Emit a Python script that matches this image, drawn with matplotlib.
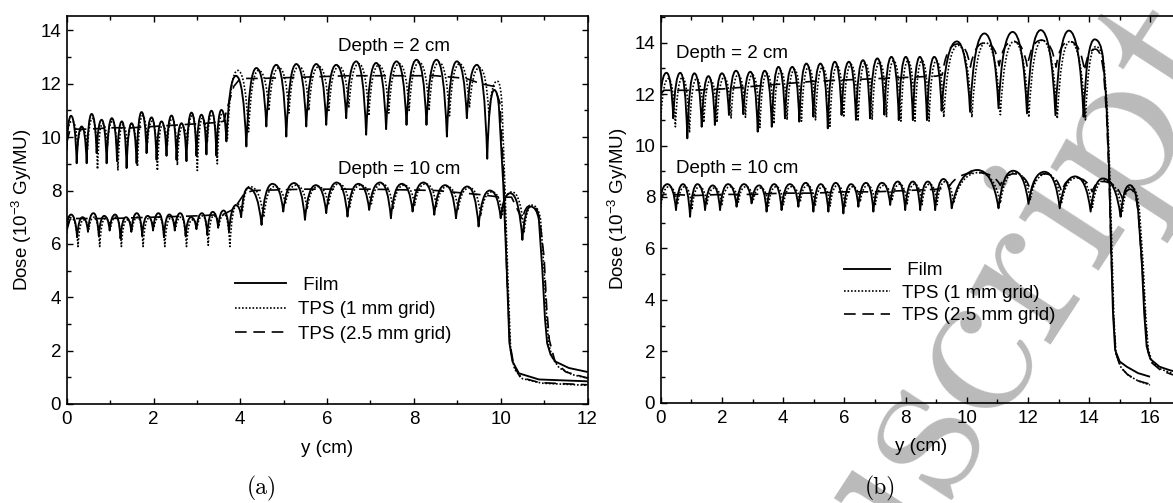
import numpy as np
import matplotlib
matplotlib.use('Agg')
import matplotlib.pyplot as plt
from matplotlib.path import Path
from matplotlib.patches import PathPatch
from matplotlib.lines import Line2D
from matplotlib.ticker import MultipleLocator

plt.rcParams['font.family'] = ['Liberation Sans', 'DejaVu Sans']
plt.rcParams['mathtext.fontset'] = 'custom'
plt.rcParams['mathtext.rm'] = 'Liberation Sans'
FS = 13.5
plt.rcParams['font.size'] = FS

# ---- panel (a), depth 2 cm ----
a2_film_x = [0.0, 0.10, 0.23, 0.345, 0.46, 0.575, 0.69, 0.805, 0.92, 1.04, 1.16, 1.27, 1.38, 1.495, 1.61, 1.725,
             1.84, 1.955, 2.07, 2.185, 2.30, 2.415, 2.53, 2.645, 2.76, 2.875, 2.99, 3.105, 3.22, 3.335, 3.45, 3.565,
             3.68, 3.90, 4.14, 4.37, 4.60, 4.83, 5.06, 5.29, 5.52, 5.75, 5.98, 6.21, 6.44, 6.67, 6.90, 7.13, 7.36,
             7.60, 7.83, 8.06, 8.29, 8.52, 8.76, 8.99, 9.22, 9.45, 9.69, 9.85, 9.96, 10.06, 10.14, 10.20, 10.27,
             10.42, 10.88, 12.0]
a2_film_y = [9.5, 10.80, 9.02, 10.40, 9.02, 10.87, 9.40, 10.65, 9.02, 10.71, 9.10, 10.59, 8.84, 10.52, 9.02, 10.94,
             9.40, 10.74, 9.15, 10.59, 9.30, 10.81, 9.15, 10.52, 9.10, 10.92, 9.30, 10.84, 9.35, 10.99, 9.30, 11.02,
             9.84, 12.30, 9.65, 12.59, 10.40, 12.71, 10.02, 12.74, 10.40, 12.74, 10.46, 12.71, 10.71, 12.84, 10.09,
             12.78, 10.30, 12.84, 10.46, 12.90, 10.46, 12.90, 10.02, 12.84, 10.71, 12.71, 9.19, 11.77, 11.10, 8.20,
             5.00, 2.30, 1.60, 1.15, 0.92, 0.85]
a2_tps1_x = [0.0, 0.12, 0.25, 0.365, 0.48, 0.595, 0.71, 0.825, 0.94, 1.06, 1.18, 1.29, 1.40, 1.515, 1.63, 1.745,
             1.86, 1.975, 2.09, 2.205, 2.32, 2.435, 2.55, 2.665, 2.78, 2.895, 3.01, 3.125, 3.24, 3.355, 3.47, 3.585,
             3.70, 3.94, 4.19, 4.42, 4.66, 4.89, 5.12, 5.35, 5.58, 5.81, 6.04, 6.27, 6.50, 6.73, 6.96, 7.19, 7.42,
             7.66, 7.89, 8.12, 8.35, 8.58, 8.82, 9.05, 9.28, 9.51, 9.73, 9.92, 10.03, 10.10, 10.17, 10.23, 10.32,
             10.50, 10.95, 12.0]
a2_tps1_y = [9.9, 10.60, 9.70, 10.30, 9.55, 10.70, 8.80, 10.50, 9.70, 10.60, 8.75, 10.45, 9.70, 10.40, 8.90, 10.80,
             9.75, 10.60, 8.75, 10.45, 9.70, 10.70, 8.95, 10.40, 9.75, 10.80, 8.75, 10.70, 9.80, 10.85, 9.00, 10.90,
             9.90, 12.50, 10.20, 12.50, 11.00, 12.60, 10.90, 12.65, 11.00, 12.65, 11.00, 12.65, 11.10, 12.75, 10.80,
             12.70, 10.90, 12.75, 11.00, 12.80, 11.00, 12.80, 10.80, 12.75, 11.10, 12.60, 10.80, 12.10, 11.20, 8.00,
             4.50, 2.00, 1.30, 0.95, 0.78, 0.70]
a2_tps25_x = [0.0, 0.08, 0.5, 1.0, 1.5, 2.0, 2.5, 3.0, 3.5, 3.62, 3.72, 3.85, 4.0, 4.5, 5.5, 6.5, 7.5, 8.5, 9.2,
              9.55, 9.85, 9.98, 10.07, 10.14, 10.21, 10.30, 10.45, 10.90, 12.0]
a2_tps25_y = [9.8, 10.30, 10.30, 10.35, 10.35, 10.40, 10.45, 10.50, 10.55, 10.60, 11.20, 11.90, 12.20, 12.20, 12.25,
              12.30, 12.30, 12.30, 12.20, 12.00, 11.90, 11.30, 8.50, 5.00, 2.30, 1.45, 1.00, 0.80, 0.72]

# ---- panel (a), depth 10 cm ----
a10_film_x = [0.0, 0.10, 0.24, 0.365, 0.49, 0.615, 0.74, 0.865, 0.99, 1.115, 1.24, 1.365, 1.49, 1.615, 1.74, 1.865,
              1.99, 2.115, 2.24, 2.365, 2.49, 2.615, 2.74, 2.865, 2.99, 3.115, 3.24, 3.365, 3.49, 3.615, 3.74, 3.90,
              4.02, 4.18, 4.49, 4.74, 4.99, 5.24, 5.49, 5.74, 5.98, 6.22, 6.47, 6.72, 6.97, 7.22, 7.47, 7.72, 7.97,
              8.22, 8.47, 8.72, 8.97, 9.23, 9.49, 9.75, 10.0, 10.22, 10.50, 10.69, 10.88, 10.96, 11.02, 11.07, 11.15,
              11.26, 11.57, 12.0]
a10_film_y = [6.6, 7.10, 6.25, 7.00, 6.45, 7.15, 6.30, 7.05, 6.50, 7.10, 6.20, 7.00, 6.45, 7.15, 6.30, 7.05, 6.50,
              7.15, 6.25, 7.10, 6.50, 7.15, 6.30, 7.00, 6.55, 7.15, 6.35, 7.20, 6.60, 7.25, 6.45, 7.45, 7.00, 8.10,
              6.71, 8.25, 7.21, 8.28, 6.90, 8.20, 7.15, 8.30, 7.02, 8.25, 7.27, 8.30, 6.96, 8.25, 7.21, 8.30, 7.09,
              8.20, 6.96, 8.15, 6.65, 8.00, 6.96, 7.90, 6.15, 7.40, 6.90, 5.00, 3.20, 2.28, 1.85, 1.59, 1.35, 1.20]
a10_tps1_x = [0.0, 0.12, 0.26, 0.385, 0.51, 0.635, 0.76, 0.885, 1.01, 1.135, 1.26, 1.385, 1.51, 1.635, 1.76, 1.885,
              2.01, 2.135, 2.26, 2.385, 2.51, 2.635, 2.76, 2.885, 3.01, 3.135, 3.26, 3.385, 3.51, 3.635, 3.76, 3.93,
              4.05, 4.22, 4.54, 4.79, 5.04, 5.29, 5.54, 5.79, 6.03, 6.27, 6.52, 6.77, 7.02, 7.27, 7.52, 7.77, 8.02,
              8.27, 8.52, 8.77, 9.02, 9.28, 9.54, 9.80, 10.04, 10.26, 10.54, 10.73, 10.92, 11.00, 11.06, 11.11, 11.20,
              11.35, 11.65, 12.0]
a10_tps1_y = [6.4, 6.95, 5.90, 6.90, 6.55, 7.00, 5.90, 6.95, 6.60, 7.00, 5.90, 6.90, 6.55, 7.00, 5.90, 6.95, 6.60,
              7.00, 5.90, 6.95, 6.60, 7.00, 5.90, 6.90, 6.65, 7.05, 5.95, 7.05, 6.70, 7.10, 5.90, 7.50, 7.20, 8.15,
              7.00, 8.15, 7.50, 8.20, 7.30, 8.15, 7.45, 8.25, 7.35, 8.20, 7.50, 8.25, 7.30, 8.20, 7.45, 8.25, 7.40,
              8.15, 7.30, 8.10, 7.05, 7.95, 7.10, 7.95, 6.45, 7.45, 6.90, 5.00, 3.20, 2.20, 1.70, 1.35, 1.10, 0.97]
a10_tps25_x = [0.0, 0.08, 1.0, 2.0, 3.0, 3.6, 3.85, 4.1, 4.3, 5.5, 7.0, 8.5, 9.5, 10.0, 10.25, 10.5, 10.7, 10.9,
               11.0, 11.06, 11.12, 11.25, 11.5, 12.0]
a10_tps25_y = [6.5, 6.95, 6.95, 7.00, 7.05, 7.10, 7.30, 7.90, 8.00, 8.05, 8.05, 8.00, 7.85, 7.75, 7.75, 6.90, 7.45,
               6.90, 5.50, 3.60, 2.40, 1.60, 1.20, 0.97]

# ---- panel (b), depth 2 cm ----
b2_film_x = [0.0, 0.19, 0.41, 0.64, 0.87, 1.10, 1.34, 1.56, 1.77, 2.00, 2.23, 2.46, 2.70, 2.93, 3.17, 3.40, 3.63,
             3.85, 4.06, 4.30, 4.53, 4.76, 4.99, 5.22, 5.46, 5.69, 5.91, 6.15, 6.38, 6.61, 6.84, 7.08, 7.31, 7.54,
             7.78, 8.01, 8.24, 8.47, 8.70, 8.94, 9.18, 9.68, 10.11, 10.58, 11.04, 11.50, 11.97, 12.42, 12.90, 13.34,
             13.82, 14.18, 14.45, 14.56, 14.65, 14.72, 14.78, 14.85, 15.0, 15.23, 15.6, 15.99]
b2_film_y = [12.0, 12.83, 11.06, 12.83, 10.28, 12.81, 10.73, 12.70, 10.80, 12.81, 11.19, 12.91, 11.22, 12.87, 10.54,
             12.91, 10.73, 13.06, 11.06, 13.06, 10.93, 13.19, 11.12, 13.19, 10.67, 13.26, 11.19, 13.26, 11.00, 13.32,
             11.06, 13.39, 11.20, 13.45, 10.99, 13.45, 10.99, 13.45, 10.99, 13.45, 11.35, 14.05, 11.31, 14.36, 11.45,
             14.42, 11.25, 14.49, 11.18, 14.47, 11.12, 14.13, 13.45, 11.80, 9.20, 6.00, 3.50, 2.05, 1.60, 1.40, 1.15,
             1.01]
b2_tps1_x = [0.0, 0.25, 0.48, 0.71, 0.94, 1.17, 1.41, 1.63, 1.84, 2.07, 2.30, 2.53, 2.77, 3.00, 3.24, 3.47, 3.70,
             3.92, 4.13, 4.37, 4.60, 4.83, 5.06, 5.29, 5.53, 5.76, 5.98, 6.22, 6.45, 6.68, 6.91, 7.15, 7.38, 7.61,
             7.85, 8.08, 8.31, 8.54, 8.77, 9.01, 9.25, 9.72, 10.17, 10.62, 11.10, 11.55, 12.03, 12.47, 12.96, 13.38,
             13.88, 14.22, 14.50, 14.60, 14.68, 14.75, 14.81, 14.88, 15.05, 15.3, 15.6, 15.99]
b2_tps1_y = [11.0, 12.60, 10.73, 12.65, 10.50, 12.60, 10.90, 12.55, 10.90, 12.65, 11.05, 12.75, 11.10, 12.75, 10.70,
             12.80, 10.85, 12.90, 11.00, 12.95, 10.95, 13.05, 11.00, 13.05, 10.75, 13.10, 11.10, 13.15, 10.95, 13.20,
             11.00, 13.25, 11.10, 13.30, 10.95, 13.30, 10.95, 13.30, 10.95, 13.30, 11.10, 13.90, 11.10, 14.00, 11.20,
             14.05, 11.10, 14.10, 11.05, 14.05, 11.00, 13.85, 13.00, 11.30, 8.80, 5.80, 3.30, 1.90, 1.35, 1.05, 0.85,
             0.69]
b2_tps25_x = [0.0, 0.1, 1.0, 2.0, 3.0, 4.0, 5.0, 6.0, 7.0, 8.0, 9.0, 9.2, 9.70, 10.12, 10.60, 11.06, 11.52, 11.98,
              12.44, 12.92, 13.36, 13.85, 14.20, 14.48, 14.58, 14.66, 14.73, 14.80, 14.87, 15.02, 15.25, 15.6, 15.99]
b2_tps25_y = [12.0, 12.15, 12.15, 12.20, 12.30, 12.40, 12.50, 12.55, 12.60, 12.65, 12.70, 12.75, 13.95, 13.05, 14.00,
              13.10, 14.05, 13.05, 14.10, 13.05, 14.05, 12.90, 13.75, 12.80, 11.00, 8.50, 5.50, 3.30, 1.95, 1.40, 1.10,
              0.85, 0.72]

# ---- panel (b), depth 10 cm ----
b10_film_x = [0.0, 0.22, 0.50, 0.73, 0.96, 1.20, 1.45, 1.70, 1.94, 2.20, 2.48, 2.72, 2.97, 3.22, 3.46, 3.71, 3.95,
              4.22, 4.50, 4.74, 4.99, 5.23, 5.48, 5.72, 5.97, 6.22, 6.46, 6.71, 6.95, 7.23, 7.50, 7.75, 7.99, 8.24,
              8.48, 8.73, 8.97, 9.24, 9.51, 10.35, 11.04, 11.52, 12.02, 12.54, 13.04, 13.54, 14.05, 14.45, 15.03,
              15.33, 15.60, 15.72, 15.80, 15.88, 16.0, 16.3, 16.62, 17.0]
b10_film_y = [8.0, 8.50, 7.49, 8.50, 7.23, 8.50, 7.49, 8.45, 7.49, 8.50, 7.62, 8.50, 7.75, 8.45, 7.43, 8.50, 7.49,
              8.50, 7.62, 8.55, 7.43, 8.50, 7.43, 8.55, 7.36, 8.50, 7.62, 8.55, 7.43, 8.55, 7.69, 8.60, 7.49, 8.60,
              7.49, 8.60, 7.49, 8.70, 7.56, 9.05, 7.56, 9.02, 7.73, 8.98, 7.56, 8.80, 7.43, 8.72, 7.23, 8.46, 7.50,
              5.50, 3.50, 2.20, 1.70, 1.40, 1.27, 1.15]
b10_tps1_x = [0.0, 0.27, 0.55, 0.79, 1.02, 1.26, 1.51, 1.76, 2.00, 2.26, 2.54, 2.78, 3.03, 3.28, 3.52, 3.77, 4.01,
              4.28, 4.56, 4.80, 5.05, 5.29, 5.54, 5.78, 6.03, 6.28, 6.52, 6.77, 7.01, 7.29, 7.56, 7.81, 8.05, 8.30,
              8.54, 8.79, 9.03, 9.30, 9.57, 10.40, 11.10, 11.58, 12.08, 12.60, 13.10, 13.60, 14.11, 14.50, 15.09,
              15.38, 15.65, 15.77, 15.85, 15.93, 16.05, 16.35, 16.7, 17.0]
b10_tps1_y = [7.6, 8.40, 7.70, 8.40, 7.50, 8.40, 7.70, 8.35, 7.70, 8.40, 7.80, 8.40, 7.90, 8.35, 7.65, 8.40, 7.70,
              8.40, 7.80, 8.45, 7.65, 8.40, 7.65, 8.45, 7.60, 8.40, 7.80, 8.45, 7.65, 8.45, 7.85, 8.50, 7.70, 8.50,
              7.70, 8.50, 7.70, 8.60, 7.75, 8.95, 7.75, 8.95, 7.90, 8.90, 7.75, 8.75, 7.60, 8.65, 7.45, 8.40, 7.40,
              5.30, 3.40, 2.10, 1.60, 1.30, 1.15, 1.05]
b10_tps25_x = [0.0, 0.1, 1.0, 2.0, 3.0, 4.0, 5.0, 6.0, 7.0, 8.0, 9.0, 9.4, 10.35, 11.10, 11.55, 12.10, 12.55, 13.10,
               13.55, 14.10, 14.45, 15.10, 15.35, 15.62, 15.75, 15.84, 15.92, 16.05, 16.35, 16.7, 17.0]
b10_tps25_y = [7.8, 8.10, 8.05, 8.10, 8.10, 8.15, 8.15, 8.20, 8.20, 8.25, 8.30, 8.35, 8.95, 8.45, 8.90, 8.20, 8.90,
               8.20, 8.75, 8.20, 8.60, 7.90, 8.30, 7.20, 5.00, 3.20, 2.00, 1.55, 1.25, 1.10, 1.00]

legend_labels = [' Film', 'TPS (1 mm grid)', 'TPS (2.5 mm grid)']

FILM = dict(color='k', lw=1.35, ls='-')
TPS1 = dict(color='k', lw=1.2, ls=(0, (1, 1.1)))
TPS25 = dict(color='k', lw=1.2, ls=(0, (7, 4)))


def curve(ax, xs, ys, style, a=0.28):
    # smooth arches between valleys and peaks (horizontal tangent at each peak)
    xs = np.asarray(xs, float); ys = np.asarray(ys, float)
    n = len(xs)
    peak = np.zeros(n, bool)
    peak[1:-1] = (ys[1:-1] > ys[:-2]) & (ys[1:-1] > ys[2:])
    verts = [(xs[0], ys[0])]; codes = [Path.MOVETO]
    for i in range(1, n):
        x0, y0, x1, y1 = xs[i-1], ys[i-1], xs[i], ys[i]
        if peak[i]:
            verts += [(x0 + a*(x1 - x0), y1), (x1, y1)]; codes += [Path.CURVE3]*2
        elif peak[i-1]:
            verts += [(x1 - a*(x1 - x0), y0), (x1, y1)]; codes += [Path.CURVE3]*2
        else:
            verts.append((x1, y1)); codes.append(Path.LINETO)
    p = PathPatch(Path(verts, codes), fill=False, ec=style['color'], lw=style['lw'],
                  ls=style['ls'], capstyle='butt', joinstyle='round')
    ax.add_patch(p)


def style_axes(ax, xmax, ymax):
    ax.set_xlim(0, xmax); ax.set_ylim(0, ymax)
    ax.set_facecolor('none')
    ax.xaxis.set_major_locator(MultipleLocator(2)); ax.xaxis.set_minor_locator(MultipleLocator(1))
    ax.yaxis.set_major_locator(MultipleLocator(2)); ax.yaxis.set_minor_locator(MultipleLocator(1))
    ax.tick_params(which='both', direction='in', top=True, right=True, width=1.0, labelsize=FS)
    ax.tick_params(which='major', length=4.5)
    ax.tick_params(which='minor', length=3)
    ax.tick_params(axis='x', pad=5); ax.tick_params(axis='y', pad=4)
    for s in ax.spines.values():
        s.set_linewidth(1.2)
    ax.set_xlabel('y (cm)', fontsize=FS)
    ax.set_ylabel('Dose (10$^{-3}$ Gy/MU)', fontsize=FS)


fig = plt.figure(figsize=(11.73, 5.03), dpi=100)
W, H = 1173.0, 503.0

# watermark behind the plots
fig.text(1243/W, 1 - 48/H, 'Accepted Manuscript', family='cmr10', fontsize=160, color='#bababa',
         rotation=57, rotation_mode='anchor', ha='right', va='baseline', zorder=-5)

ax1 = fig.add_axes([66.7/W, (H - 404)/H, 520.8/W, 388.3/H])
ax2 = fig.add_axes([660.7/W, (H - 402.7)/H, 520.2/W, 387.0/H])

style_axes(ax1, 12, 14.55)
style_axes(ax2, 17, 15.05)

curve(ax1, a2_tps25_x, a2_tps25_y, TPS25)
curve(ax1, a2_tps1_x, a2_tps1_y, TPS1)
curve(ax1, a2_film_x, a2_film_y, FILM)
curve(ax1, a10_tps25_x, a10_tps25_y, TPS25)
curve(ax1, a10_tps1_x, a10_tps1_y, TPS1)
curve(ax1, a10_film_x, a10_film_y, FILM)

curve(ax2, b2_tps25_x, b2_tps25_y, TPS25)
curve(ax2, b2_tps1_x, b2_tps1_y, TPS1)
curve(ax2, b2_film_x, b2_film_y, FILM)
curve(ax2, b10_tps25_x, b10_tps25_y, TPS25)
curve(ax2, b10_tps1_x, b10_tps1_y, TPS1)
curve(ax2, b10_film_x, b10_film_y, FILM)

ax1.text(7.53, 13.38, 'Depth = 2 cm', ha='center', va='center', fontsize=FS)
ax1.text(7.66, 8.80, 'Depth = 10 cm', ha='center', va='center', fontsize=FS)
ax2.text(0.5, 13.58, 'Depth = 2 cm', ha='left', va='center', fontsize=FS)
ax2.text(0.5, 9.11, 'Depth = 10 cm', ha='left', va='center', fontsize=FS)

handles = [Line2D([], [], **FILM), Line2D([], [], **TPS1), Line2D([], [], **TPS25)]
ax1.legend(handles, legend_labels, loc='center left', bbox_to_anchor=(0.323, 0.243), frameon=False,
           handlelength=2.75, handletextpad=0.6, labelspacing=0.39, borderpad=0, borderaxespad=0,
           fontsize=FS)
ax2.legend(handles, legend_labels, loc='center left', bbox_to_anchor=(0.352, 0.283), frameon=False,
           handlelength=2.45, handletextpad=0.65, labelspacing=0.28, borderpad=0, borderaxespad=0,
           fontsize=FS)

ax1.xaxis.set_label_coords(0.5, -0.093)
ax2.xaxis.set_label_coords(0.5, -0.092)
ax1.yaxis.set_label_coords(-0.063, 0.5)
ax2.yaxis.set_label_coords(-0.059, 0.5)

fig.text(262/W, 1 - 488/H, '(a)', family='cmr10', fontsize=17, ha='center', va='center')
fig.text(880/W, 1 - 488/H, '(b)', family='cmr10', fontsize=17, ha='center', va='center')

fig.savefig('out.png', dpi=100)
